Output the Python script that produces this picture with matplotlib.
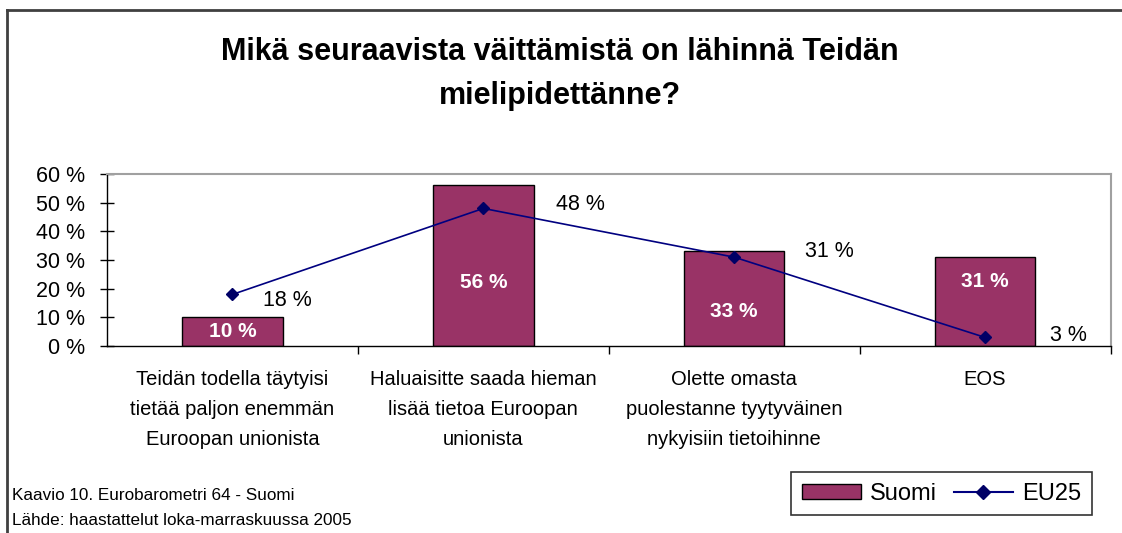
import matplotlib.pyplot as plt
from matplotlib.lines import Line2D
from matplotlib.patches import Patch

# Data
categories = ["Teidän todella täytyisi\ntietää paljon enemmän\nEuroopan unionista",
              "Haluaisitte saada hieman\nlisää tietoa Euroopan\nunionista",
              "Olette omasta\npuolestanne tyytyväinen\nnykyisiin tietoihinne",
              "EOS"]
suomi = [10, 56, 33, 31]
eu25 = [18, 48, 31, 3]
yticks = [0, 10, 20, 30, 40, 50, 60]

# Styling
bar_color = "#993366"
line_color = "#000080"
font = "Liberation Sans"
# where Excel put the labels (value units / pixel offsets)
bar_label_y = [5.2, 22, 12, 22.6]
eu_label_off = [(31, -6), (73, 4), (71, 6), (65, 2)]

plt.rcParams['font.family'] = [font, 'DejaVu Sans']

fig = plt.figure(figsize=(11.22, 5.33), dpi=100)
ax = fig.add_axes([0.0954, 0.3508, 0.8944, 0.3227])

x = list(range(len(categories)))
ax.bar(x, suomi, width=0.4, color=bar_color, edgecolor="black", linewidth=1, zorder=2)
ax.plot(x, eu25, color=line_color, linewidth=1.2, marker="D", markersize=6,
        markerfacecolor="#000066", markeredgecolor="#000066", zorder=3)

for i, v in enumerate(suomi):
    ax.text(i, bar_label_y[i], "%d %%" % v, ha="center", va="center", color="white",
            fontsize=15, fontweight="bold", zorder=4)
for i, v in enumerate(eu25):
    ax.annotate("%d %%" % v, (i, v), xytext=eu_label_off[i], textcoords="offset pixels",
                ha="left", va="center", fontsize=15.5, zorder=4)

ax.set_xlim(-0.5, len(categories) - 0.5)
ax.set_ylim(0, 60)
ax.set_yticks(yticks)
ax.set_yticklabels(["%d %%" % t for t in yticks], fontsize=15.5)
ax.tick_params(axis="y", direction="inout", length=10, width=1, pad=11)

# category boundaries as ticks, labels at centres
ax.set_xticks([i + 0.5 for i in range(len(categories))])
ax.set_xticklabels([])
ax.tick_params(axis="x", direction="out", length=6, width=1)
for i, c in enumerate(categories):
    ax.text(i, -8.5, c, ha="center", va="top", fontsize=14.5, linespacing=1.72,
            transform=ax.transData)

for s in ["top", "right"]:
    ax.spines[s].set_color("#a0a0a0")
    ax.spines[s].set_linewidth(1.5)
for s in ["left", "bottom"]:
    ax.spines[s].set_color("black")
    ax.spines[s].set_linewidth(1)

fig.text(0.499, 0.861, "Mikä seuraavista väittämistä on lähinnä Teidän\nmielipidettänne?",
         ha="center", va="center", fontsize=22, fontweight="bold", linespacing=1.63)

fig.text(0.011, 0.071, "Kaavio 10. Eurobarometri 64 - Suomi", fontsize=12.3, va="center")
fig.text(0.011, 0.024, "Lähde: haastattelut loka-marraskuussa 2005", fontsize=12.3, va="center")

handles = [Patch(facecolor=bar_color, edgecolor="black", label="Suomi"),
           Line2D([], [], color=line_color, marker="D", markersize=7,
                  markerfacecolor="#000066", markeredgecolor="#000066", label="EU25")]
leg = fig.legend(handles=handles, loc="center", bbox_to_anchor=(0.839, 0.074), ncol=2,
                 fontsize=17, frameon=True, fancybox=False, edgecolor="black",
                 handlelength=2.5, handleheight=0.6, columnspacing=0.7, handletextpad=0.4,
                 borderpad=0.45)
leg.get_frame().set_linewidth(1.2)

# outer chart frame (cropped on right and bottom)
fig.add_artist(Line2D([7 / 1122, 1], [1 - 10 / 533, 1 - 10 / 533], color="#404040", linewidth=2))
fig.add_artist(Line2D([7 / 1122, 7 / 1122], [0, 1 - 10 / 533], color="#404040", linewidth=2))

fig.savefig("out.png", dpi=100)
